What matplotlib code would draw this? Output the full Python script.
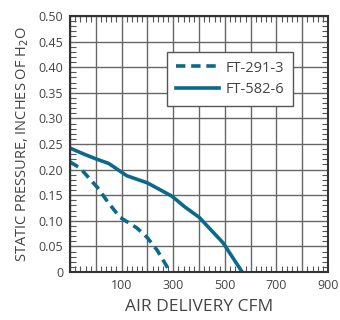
import matplotlib
matplotlib.use('Agg')
import matplotlib.pyplot as plt
from matplotlib.ticker import MultipleLocator

# curves (CFM, inches of H2O)
ft291_cfm = [-100, -61, 8, 46, 93, 159, 198, 237, 268, 288]
ft291_sp = [0.215, 0.203, 0.164, 0.137, 0.107, 0.086, 0.068, 0.043, 0.017, 0.0]

ft582_cfm = [-100, -45, 0, 50, 85, 120, 200, 295, 345, 400, 493, 567]
ft582_sp = [0.242, 0.230, 0.221, 0.212, 0.200, 0.188, 0.174, 0.148, 0.127, 0.107, 0.057, 0.0]

x_ticks = [100, 300, 500, 700, 900]
y_ticks = [0, 0.05, 0.10, 0.15, 0.20, 0.25, 0.30, 0.35, 0.40, 0.45, 0.50]
y_labels = ['0', '0.05', '0.10', '0.15', '0.20', '0.25', '0.30', '0.35', '0.40', '0.45', '0.50']

line_col = '#0b6a8b'
txt_col = '#444444'

plt.rcParams['font.family'] = ['Open Sans', 'DejaVu Sans']

fig = plt.figure(figsize=(3.4, 3.2), dpi=100)
ax = fig.add_axes([0.206, 0.15, 0.759, 0.80])

ax.plot(ft291_cfm, ft291_sp, color=line_col, lw=2.6, dashes=(2.6, 1.6), label='FT-291-3')
ax.plot(ft582_cfm, ft582_sp, color=line_col, lw=2.6, label='FT-582-6')

ax.set_xlim(-100, 900)
ax.set_ylim(0, 0.5)
ax.xaxis.set_minor_locator(MultipleLocator(20))
ax.yaxis.set_minor_locator(MultipleLocator(0.01))
ax.grid(True, which='major', color='#666666', lw=1.0)

ax.set_xticks(list(range(-100, 901, 100)))
ax.set_xticklabels(['' if v not in x_ticks else str(v) for v in range(-100, 901, 100)])
ax.set_yticks(y_ticks)
ax.set_yticklabels(y_labels)

ax.tick_params(which='major', length=0, labelsize=9, labelcolor=txt_col, pad=5)
ax.tick_params(which='minor', direction='in', length=4, width=0.8, color='#555555',
               top=True, right=True, bottom=True, left=True)
for s in ax.spines.values():
    s.set_color('#333333')
    s.set_linewidth(1.5)

ax.set_xlabel('AIR DELIVERY CFM', fontsize=12.5, color=txt_col, labelpad=5)
ax.set_ylabel('STATIC PRESSURE, INCHES OF H$_2$O', fontsize=10.5, color=txt_col, labelpad=5)

leg = ax.legend(loc='upper left', bbox_to_anchor=(0.375, 0.86), fontsize=10.5,
                handlelength=3.0, frameon=True, fancybox=False, borderpad=0.6,
                labelspacing=0.45, handletextpad=0.4, borderaxespad=0, labelcolor=txt_col)
leg.get_frame().set_edgecolor('#555555')
leg.get_frame().set_linewidth(1.0)
leg.get_frame().set_alpha(1)

fig.savefig('out.png', dpi=100)
